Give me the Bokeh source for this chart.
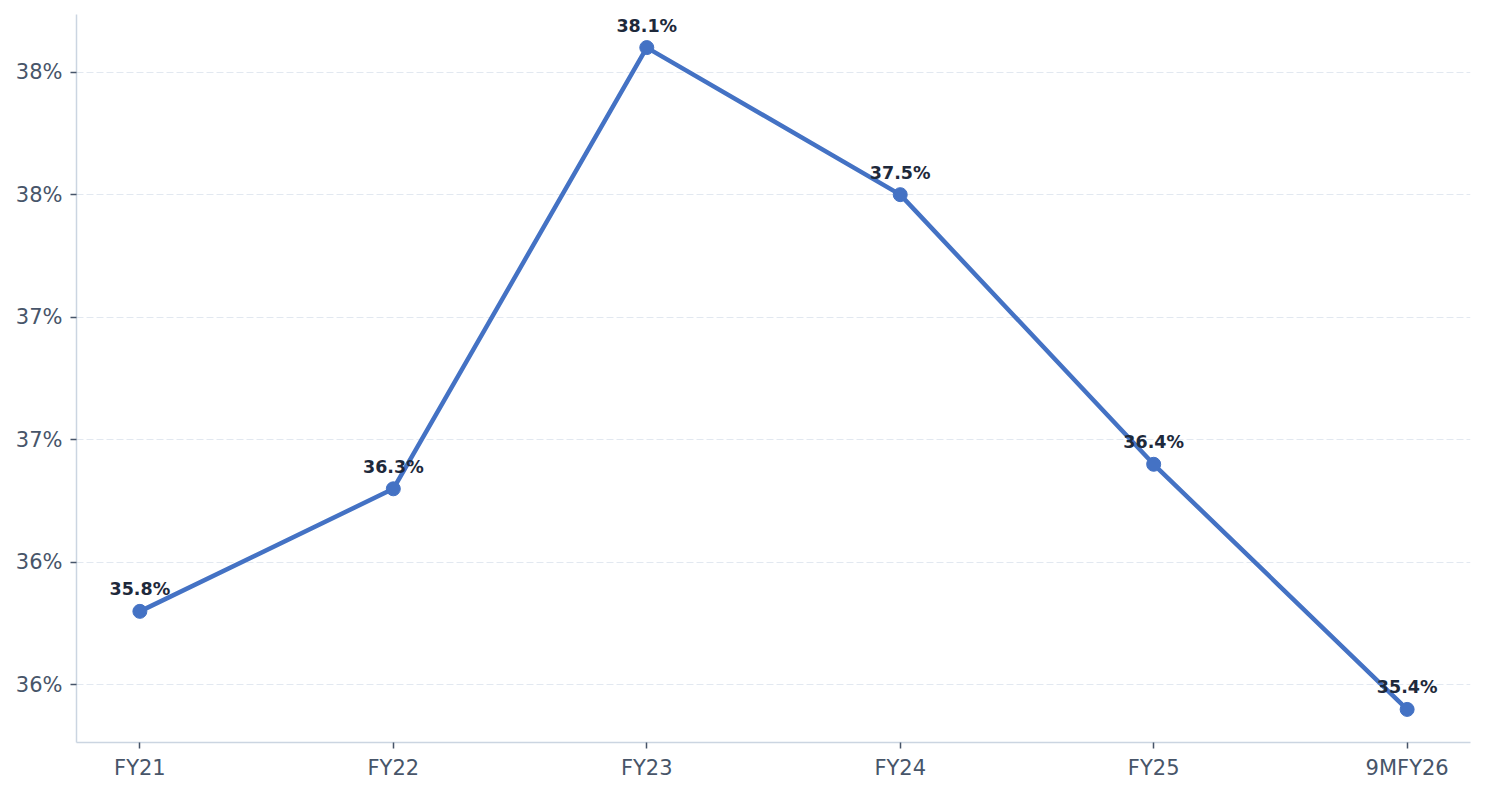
from bokeh.plotting import figure
from bokeh.models import ColumnDataSource, FixedTicker, Range1d
from bokeh.embed import file_html
from bokeh.resources import INLINE

# datos
periodos = ["FY21", "FY22", "FY23", "FY24", "FY25", "9MFY26"]
margen = [35.8, 36.3, 38.1, 37.5, 36.4, 35.4]
etiquetas = ["35.8%", "36.3%", "38.1%", "37.5%", "36.4%", "35.4%"]
y_ticks = [35.5, 36.0, 36.5, 37.0, 37.5, 38.0]
y_tick_labels = ["36%", "36%", "37%", "37%", "38%", "38%"]

x = list(range(len(periodos)))
source = ColumnDataSource(dict(x=x, y=margen, lbl=etiquetas))

pad = (max(margen) - min(margen)) * 0.05

p = figure(
    width=1478,
    height=784,
    output_backend="svg",
    toolbar_location=None,
    x_range=Range1d(-0.25, len(periodos) - 0.75),
    y_range=Range1d(min(margen) - pad, max(margen) + pad),
    min_border_left=76,
    min_border_top=14,
    min_border_right=8,
    min_border_bottom=42,
)
p.outline_line_color = None
p.background_fill_color = "white"
p.border_fill_color = "white"

p.line("x", "y", source=source, line_width=4.5, color="#4472C4")
p.scatter("x", "y", source=source, size=14, color="#4472C4")
p.text("x", "y", text="lbl", source=source,
       text_font_size="17.5px", text_font_style="bold", text_color="#1e293b",
       text_align="center", text_baseline="alphabetic", y_offset=-22,
       text_font={"value": "DejaVu Sans"})

# ejes
p.xaxis.ticker = FixedTicker(ticks=x)
p.xaxis.major_label_overrides = {i: s for i, s in enumerate(periodos)}
p.yaxis.ticker = FixedTicker(ticks=y_ticks)
p.yaxis.major_label_overrides = {t: s for t, s in zip(y_ticks, y_tick_labels)}

for ax in (p.xaxis, p.yaxis):
    ax.axis_line_color = "#cbd5e1"
    ax.axis_line_width = 1.5
    ax.major_tick_line_color = "#475569"
    ax.major_tick_line_width = 1.5
    ax.major_tick_out = 6
    ax.major_tick_in = 0
    ax.minor_tick_line_color = None
    ax.major_label_text_font = "DejaVu Sans"
    ax.major_label_text_font_size = "21px"
    ax.major_label_text_color = "#475569"
p.yaxis.major_label_standoff = 8
p.xaxis.major_label_standoff = 7

p.xgrid.grid_line_color = None
p.ygrid.grid_line_color = "#e2e8f0"
p.ygrid.grid_line_dash = "7 3"
p.ygrid.grid_line_width = 1

open("out.html", "w").write(file_html(p, INLINE))
